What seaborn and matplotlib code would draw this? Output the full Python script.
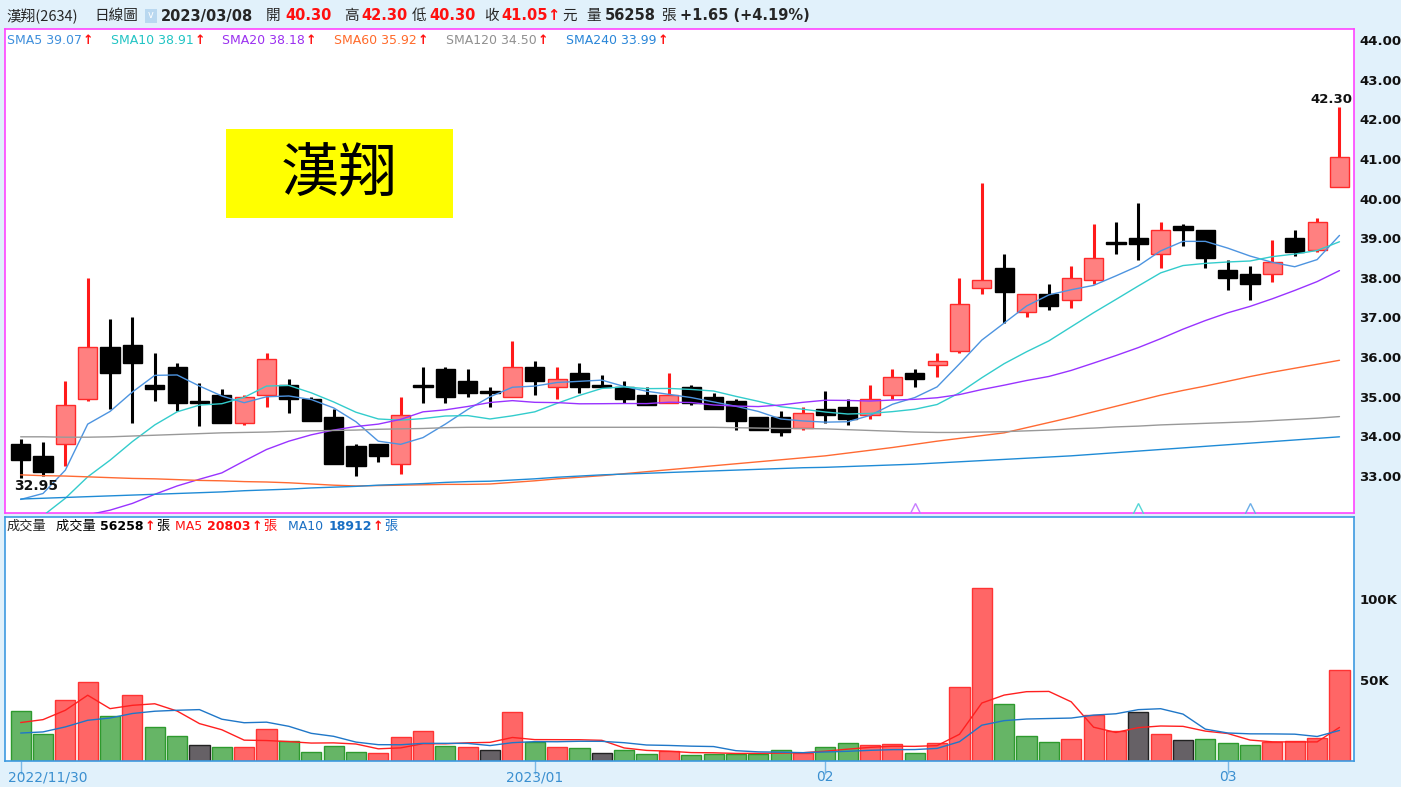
import numpy as np
import pandas as pd
import seaborn as sns
import matplotlib
matplotlib.use("Agg")
import matplotlib.pyplot as plt
from matplotlib.patches import Rectangle

# ---- data ----
dates = [
    "2022/11/30", "2022/12/01", "2022/12/02", "2022/12/05", "2022/12/06", "2022/12/07",
    "2022/12/08", "2022/12/09", "2022/12/12", "2022/12/13", "2022/12/14", "2022/12/15",
    "2022/12/16", "2022/12/19", "2022/12/20", "2022/12/21", "2022/12/22", "2022/12/23",
    "2022/12/26", "2022/12/27", "2022/12/28", "2022/12/29", "2022/12/30", "2023/01/03",
    "2023/01/04", "2023/01/05", "2023/01/06", "2023/01/09", "2023/01/10", "2023/01/11",
    "2023/01/12", "2023/01/13", "2023/01/16", "2023/01/17", "2023/01/30", "2023/01/31",
    "2023/02/01", "2023/02/02", "2023/02/03", "2023/02/06", "2023/02/07", "2023/02/08",
    "2023/02/09", "2023/02/10", "2023/02/13", "2023/02/14", "2023/02/15", "2023/02/16",
    "2023/02/17", "2023/02/20", "2023/02/21", "2023/02/22", "2023/02/23", "2023/02/24",
    "2023/03/01", "2023/03/02", "2023/03/03", "2023/03/06", "2023/03/07", "2023/03/08",
]
opens = [33.80, 33.50, 33.80, 34.95, 36.25, 36.30, 35.30, 35.75, 34.90, 35.05,
         34.35, 35.05, 35.30, 34.95, 34.50, 33.75, 33.80, 33.30, 35.30, 35.70,
         35.40, 35.15, 35.00, 35.75, 35.25, 35.60, 35.25, 35.25, 35.05, 34.85,
         35.25, 35.00, 34.90, 34.50, 34.50, 34.20, 34.70, 34.75, 34.55, 35.05,
         35.60, 35.80, 36.15, 37.75, 38.25, 37.15, 37.60, 37.45, 37.95, 38.90,
         39.00, 38.60, 39.30, 39.20, 38.20, 38.10, 38.10, 39.00, 38.70, 40.30]
highs = [33.93, 33.85, 35.40, 38.00, 36.95, 37.00, 36.10, 35.85, 35.35, 35.20,
         35.05, 36.10, 35.45, 35.00, 34.70, 33.80, 33.80, 35.00, 35.75, 35.75,
         35.70, 35.25, 36.40, 35.90, 35.75, 35.85, 35.55, 35.40, 35.25, 35.60,
         35.30, 35.10, 34.95, 34.50, 34.65, 34.75, 35.15, 34.95, 35.30, 35.70,
         35.70, 36.10, 38.00, 40.40, 38.60, 37.60, 37.85, 38.30, 39.35, 39.40,
         39.90, 39.40, 39.35, 39.20, 38.45, 38.30, 38.95, 39.20, 39.50, 42.30]
lows = [32.95, 33.00, 33.25, 34.90, 34.70, 34.35, 34.90, 34.65, 34.25, 34.35,
        34.30, 34.75, 34.60, 34.40, 33.30, 33.00, 33.35, 33.05, 34.85, 34.85,
        35.00, 34.75, 35.00, 35.05, 34.95, 35.10, 35.25, 34.85, 34.80, 34.85,
        34.80, 34.70, 34.15, 34.15, 34.00, 34.15, 34.35, 34.30, 34.45, 34.95,
        35.25, 35.50, 36.10, 37.60, 36.85, 37.00, 37.20, 37.25, 37.85, 38.60,
        38.45, 38.25, 38.80, 38.25, 37.70, 37.45, 37.90, 38.55, 38.65, 40.30]
closes = [33.40, 33.10, 34.80, 36.25, 35.60, 35.85, 35.20, 34.85, 34.85, 34.35,
          35.00, 35.95, 34.95, 34.40, 33.30, 33.25, 33.50, 34.55, 35.25, 35.00,
          35.10, 35.10, 35.75, 35.40, 35.45, 35.25, 35.25, 34.95, 34.80, 35.05,
          34.85, 34.70, 34.40, 34.15, 34.10, 34.60, 34.55, 34.45, 34.95, 35.50,
          35.45, 35.90, 37.35, 37.95, 37.65, 37.60, 37.30, 38.00, 38.50, 38.85,
          38.85, 39.20, 39.20, 38.50, 38.00, 37.85, 38.40, 38.65, 39.40, 41.05]
volumes = [30800, 16500, 38000, 48800, 27900, 41100, 21300, 15500, 9900, 8900,
           8900, 20100, 12200, 5400, 9500, 5400, 5200, 15100, 18400, 9100,
           8500, 6600, 30200, 11800, 8900, 8300, 4800, 6600, 4200, 6400,
           4000, 4200, 4600, 4600, 7000, 5200, 8900, 11000, 10100, 10500,
           4800, 11200, 46100, 106800, 35100, 15300, 12000, 13900, 28300, 18800,
           30300, 17000, 12800, 13600, 11410, 10000, 11600, 12200, 13955, 56258]

# moving-average values before the window fills
sma5_head = [32.41, 32.56, 33.15, 34.31]
sma10_head = [31.55, 32.00, 32.44, 32.98, 33.40, 33.87, 34.29, 34.62, 34.79]
sma20_head = [31.60, 31.75, 31.90, 32.02, 32.14, 32.31, 32.54, 32.75, 32.92, 33.08,
              33.38, 33.67, 33.88, 34.04, 34.16, 34.25, 34.31, 34.43, 34.62]
sma60 = [33.03, 33.01, 33.00, 32.98, 32.96, 32.94, 32.93, 32.91, 32.89, 32.88,
         32.86, 32.85, 32.83, 32.80, 32.77, 32.75, 32.76, 32.77, 32.78, 32.79,
         32.79, 32.80, 32.84, 32.88, 32.93, 32.97, 33.01, 33.06, 33.11, 33.16,
         33.21, 33.26, 33.31, 33.36, 33.41, 33.46, 33.51, 33.58, 33.65, 33.72,
         33.80, 33.88, 33.95, 34.02, 34.09, 34.22, 34.35, 34.48, 34.62, 34.76,
         34.90, 35.04, 35.16, 35.27, 35.39, 35.51, 35.62, 35.72, 35.82, 35.92]
sma120 = [33.99, 33.99, 33.98, 33.98, 33.99, 34.01, 34.03, 34.05, 34.07, 34.09,
          34.10, 34.11, 34.13, 34.14, 34.15, 34.16, 34.18, 34.19, 34.20, 34.22,
          34.23, 34.23, 34.23, 34.23, 34.23, 34.23, 34.23, 34.23, 34.23, 34.23,
          34.23, 34.23, 34.22, 34.21, 34.20, 34.20, 34.19, 34.17, 34.15, 34.13,
          34.11, 34.10, 34.10, 34.11, 34.12, 34.14, 34.16, 34.19, 34.21, 34.24,
          34.26, 34.29, 34.31, 34.33, 34.35, 34.37, 34.40, 34.43, 34.46, 34.50]
sma240 = [32.42, 32.44, 32.46, 32.48, 32.50, 32.52, 32.54, 32.56, 32.58, 32.60,
          32.63, 32.65, 32.67, 32.70, 32.72, 32.74, 32.77, 32.79, 32.81, 32.84,
          32.86, 32.87, 32.90, 32.93, 32.97, 33.00, 33.03, 33.05, 33.07, 33.09,
          33.11, 33.13, 33.15, 33.17, 33.19, 33.21, 33.22, 33.24, 33.26, 33.28,
          33.30, 33.33, 33.36, 33.39, 33.42, 33.45, 33.48, 33.51, 33.55, 33.59,
          33.63, 33.67, 33.71, 33.75, 33.79, 33.83, 33.87, 33.91, 33.95, 33.99]
vol_ma5_head = [23800, 25600, 31400, 40700]
vol_ma10_head = [17300, 18000, 21100, 25200, 26600, 29400, 30800, 31400, 31800]

tick_dates = ["2022/11/30", "2023/01/03", "2023/02/01", "2023/03/01"]
tick_labels = ["2022/11/30", "2023/01", "02", "03"]
price_ticks = [33, 34, 35, 36, 37, 38, 39, 40, 41, 42, 43, 44]
vol_ticks = [50000, 100000]
vol_tick_labels = ["50K", "100K"]
signal_idx = [40, 50, 55]
signal_colors = ["#c77dff", "#55d6d6", "#6aaee8"]


def moving_average(values, n, head):
    s = pd.Series(values, dtype=float).rolling(n).mean()
    s.iloc[:n - 1] = head
    return s


df = pd.DataFrame({"date": dates, "open": opens, "high": highs, "low": lows,
                   "close": closes, "volume": volumes})
df["x"] = np.arange(len(df))
df["sma5"] = moving_average(closes, 5, sma5_head)
df["sma10"] = moving_average(closes, 10, sma10_head)
df["sma20"] = moving_average(closes, 20, sma20_head)
df["sma60"] = sma60
df["sma120"] = sma120
df["sma240"] = sma240
df["vma5"] = moving_average(volumes, 5, vol_ma5_head)
df["vma10"] = moving_average(volumes, 10, vol_ma10_head)

up = df["close"] > df["open"]
chg = df["close"].diff().fillna(df["close"] - df["open"])

# ---- styling ----
sns.set_theme(style="white")
plt.rcParams["font.family"] = ["DejaVu Sans", "Noto Sans CJK TC"]
CJK = ["Noto Sans CJK TC", "DejaVu Sans"]
BG = "#e1f1fb"
W, H = 1401, 787

fig = plt.figure(figsize=(W / 100, H / 100), dpi=100, facecolor=BG)
ren = fig.canvas.get_renderer()


def box(x0, y0, x1, y1):
    return [x0 / W, 1 - y1 / H, (x1 - x0) / W, (y1 - y0) / H]


def ftext(x, y, s, **kw):
    kw.setdefault("va", "center")
    kw.setdefault("ha", "left")
    return fig.text(x / W, 1 - y / H, s, **kw)


def chain(x, y, parts):
    # draw text pieces one after another, left to right
    for s, kw in parts:
        t = ftext(x, y, s, **kw)
        x = t.get_window_extent(renderer=ren).x1 + 1


ax = fig.add_axes(box(5, 29, 1354, 513))
axv = fig.add_axes(box(5, 517, 1354, 761))
for a in (ax, axv):
    a.set_facecolor("white")
    a.set_xlim(-0.7, 59.65)

# ---- candles ----
wick_col = np.where(up, "#ff1a1a", "black")
ax.vlines(df["x"], df["low"], df["high"], colors=wick_col, linewidth=2.2, zorder=2)
body_h = np.maximum((df["close"] - df["open"]).abs(), 0.04)
body_b = np.minimum(df["open"], df["close"])
ax.bar(df["x"], body_h, bottom=body_b, width=0.86,
       color=np.where(up, "#ff8080", "black"),
       edgecolor=np.where(up, "#ff2a2a", "black"), linewidth=1.0, zorder=3)

ma_lines = [("sma5", "#4d94e0"), ("sma10", "#33cccc"), ("sma20", "#9933ff"),
            ("sma60", "#ff6a33"), ("sma120", "#999999"), ("sma240", "#1f8bd6")]
for col, c in ma_lines:
    sns.lineplot(data=df, x="x", y=col, ax=ax, color=c, linewidth=1.0, zorder=4)

for i, c in zip(signal_idx, signal_colors):
    ax.plot([i], [32.16], linestyle="none", marker="^", markersize=9,
            markerfacecolor="none", markeredgecolor=c, markeredgewidth=1.0, zorder=5)

ax.set_ylim(32.068, 44.277)
ax.set_xlabel("")
ax.set_ylabel("")
ax.set_xticks([])
ax.yaxis.tick_right()
ax.set_yticks(price_ticks)
ax.set_yticklabels([f"{t:.2f}" for t in price_ticks], fontsize=9.5, fontweight="bold")
ax.tick_params(axis="y", length=0, pad=4, colors="#111111")
for sp in ax.spines.values():
    sp.set_color("#ff44ff")
    sp.set_linewidth(1.2)

imax = int(df["high"].idxmax())
imin = int(df["low"].idxmin())
ax.annotate(f"{df['high'][imax]:.2f}", (imax, df["high"][imax]), xytext=(-6, 1),
            textcoords="offset points", ha="center", va="bottom",
            fontsize=9.5, fontweight="bold", color="#111111", zorder=6)
ax.annotate(f"{df['low'][imin]:.2f}", (imin, df["low"][imin]), xytext=(11, -1),
            textcoords="offset points", ha="center", va="top",
            fontsize=10, fontweight="bold", color="#111111", zorder=6)

# title box
fig.patches.append(Rectangle((226 / W, 1 - 218 / H), 227 / W, 89 / H,
                             transform=fig.transFigure, facecolor="#ffff00",
                             edgecolor="none", zorder=5))
ftext(339.5, 175, "漢翔", ha="center", fontsize=42, family=CJK, color="black", zorder=6)

# ---- volume ----
vcol = np.where(chg > 0, "#ff6666", np.where(chg < 0, "#66b566", "#666166"))
vedge = np.where(chg > 0, "#ff3333", np.where(chg < 0, "#2e9a2e", "#222222"))
axv.bar(df["x"], df["volume"], width=0.9, color=vcol, edgecolor=vedge,
        linewidth=1.0, zorder=2)
sns.lineplot(data=df, x="x", y="vma5", ax=axv, color="#ff2020", linewidth=1.0, zorder=4)
sns.lineplot(data=df, x="x", y="vma10", ax=axv, color="#1f77c8", linewidth=1.0, zorder=4)
axv.set_ylim(0, 151000)
axv.set_xlabel("")
axv.set_ylabel("")
axv.yaxis.tick_right()
axv.set_yticks(vol_ticks)
axv.set_yticklabels(vol_tick_labels, fontsize=9.5, fontweight="bold")
axv.tick_params(axis="y", length=0, pad=4, colors="#111111")
tick_pos = [dates.index(d) for d in tick_dates]
axv.set_xticks(tick_pos)
axv.set_xticklabels([])
axv.tick_params(axis="x", length=9, width=1, color="#7ab8e6", direction="out", bottom=True)
for sp in axv.spines.values():
    sp.set_color("#3d9ae0")
    sp.set_linewidth(1.2)
for i, (p, lab) in enumerate(zip(tick_pos, tick_labels)):
    axv.text(p - 0.55 if i == 0 else p, -0.066, lab, transform=axv.get_xaxis_transform(),
             ha="left" if i == 0 else "center", va="center", fontsize=10, color="#3a8fd0")

# ---- header ----
last = df.iloc[-1]
prev = df.iloc[-2]
diff = last["close"] - prev["close"]
pct = diff / prev["close"] * 100
ftext(6, 16, "漢翔(2634)", fontsize=10.5, family=CJK)
ftext(94, 16, "日線圖", fontsize=10.5, family=CJK)
fig.patches.append(Rectangle((145 / W, 1 - 23 / H), 12 / W, 14 / H,
                             transform=fig.transFigure, facecolor="#b9d8f0",
                             edgecolor="none"))
ftext(151, 15, "v", ha="center", fontsize=7, color="white")
ftext(161, 16, last["date"], fontsize=10.5, fontweight="bold")
hdr = [(266, "開", 285, last["open"]), (344, "高", 361, last["high"]),
       (412, "低", 429, last["low"]), (484, "收", 501, last["close"])]
for xl, lab, xv, v in hdr:
    ftext(xl, 16, lab, fontsize=10.5, family=CJK)
    ftext(xv, 16, f"{v:.2f}", fontsize=10.5, fontweight="bold", color="#ff1010")
ftext(547, 16, "↑", fontsize=10.5, fontweight="bold", color="#ff1010")
ftext(562, 16, "元", fontsize=10.5, family=CJK)
ftext(586, 16, "量", fontsize=10.5, family=CJK)
ftext(605, 16, f"{int(last['volume'])}", fontsize=10.5, fontweight="bold")
ftext(661, 16, "張", fontsize=10.5, family=CJK)
ftext(680, 16, f"{diff:+.2f} ({pct:+.2f}%)", fontsize=10.5, fontweight="bold")

# SMA legend
leg_x = [7, 111, 222, 334, 446, 566]
leg_col = ["#3f8fdc", "#22c4c4", "#9b30f0", "#ff6a2a", "#909090", "#2a86d8"]
leg_names = ["SMA5", "SMA10", "SMA20", "SMA60", "SMA120", "SMA240"]
for x0, (col, _), c, name in zip(leg_x, ma_lines, leg_col, leg_names):
    chain(x0, 40, [(f"{name} {df[col].iloc[-1]:.2f}", dict(fontsize=9, color=c)),
                   ("↑", dict(fontsize=9, fontweight="bold", color="#ff1010"))])

# volume legend
ftext(7, 526, "成交量", fontsize=9.5, family=CJK)
vol_leg = [(56, "成交量", f"{int(last['volume'])}", "black"),
           (175, "MA5", f"{int(round(last['vma5']))}", "#ff1010"),
           (288, "MA10", f"{int(round(last['vma10']))}", "#1a6fc4")]
for x0, name, val, c in vol_leg:
    name_kw = dict(fontsize=9.5, color=c, family=CJK) if name == "成交量" else \
        dict(fontsize=9, color=c)
    chain(x0, 526, [(name + " ", name_kw),
                    (val, dict(fontsize=9, fontweight="bold", color=c)),
                    ("↑", dict(fontsize=9, fontweight="bold", color="#ff1010")),
                    ("張", dict(fontsize=9.5, family=CJK, color=c))])

fig.savefig("out.png", dpi=100, facecolor=BG)
